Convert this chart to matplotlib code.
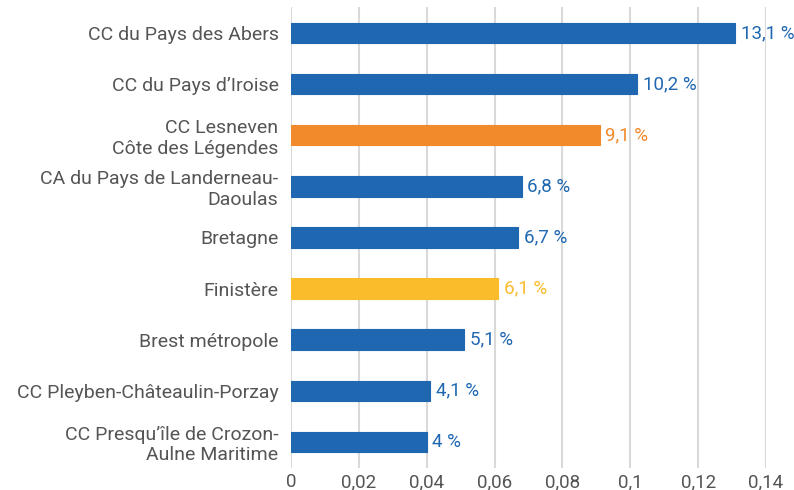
import numpy as np
import matplotlib.pyplot as plt

plt.rcParams['font.family'] = ['Roboto', 'DejaVu Sans']

territoires = [
    "CC du Pays des Abers",
    "CC du Pays d\u2019Iroise",
    "CC Lesneven\nC\u00f4te des L\u00e9gendes",
    "CA du Pays de Landerneau-\nDaoulas",
    "Bretagne",
    "Finist\u00e8re",
    "Brest m\u00e9tropole",
    "CC Pleyben-Ch\u00e2teaulin-Porzay",
    "CC Presqu\u2019\u00eele de Crozon-\nAulne Maritime",
]
taux = [0.131, 0.102, 0.091, 0.068, 0.067, 0.061, 0.051, 0.041, 0.040]
etiquettes = ["13,1 %", "10,2 %", "9,1 %", "6,8 %", "6,7 %", "6,1 %", "5,1 %", "4,1 %", "4 %"]
couleurs = ["#1F67B1", "#1F67B1", "#F28A2B", "#1F67B1", "#1F67B1",
            "#FBBC2C", "#1F67B1", "#1F67B1", "#1F67B1"]

fig = plt.figure(figsize=(7.94, 4.90), dpi=100)
ax = fig.add_axes([291 / 794, 1 - 467.5 / 490, (766 - 291) / 794, (467.5 - 7.5) / 490])

y = np.arange(len(territoires))
ax.barh(y, taux, height=0.4, color=couleurs, edgecolor=couleurs,
        linewidth=0.8, zorder=3)
for yi, v, lab, c in zip(y, taux, etiquettes, couleurs):
    ax.annotate(lab, (v, yi), xytext=(4, 0), textcoords="offset points",
                va="center", ha="left", color=c, fontsize=13.5,
                annotation_clip=False)

ax.set_xlim(0, 0.14)
ax.set_ylim(len(territoires) - 0.5, -0.5)
ax.set_yticks(y)
ax.set_yticklabels(territoires, fontsize=14, color="#555555", ha="right",
                   multialignment="right", linespacing=1.17)
xt = np.arange(0, 0.141, 0.02)
ax.set_xticks(xt)
ax.set_xticklabels(["0", "0,02", "0,04", "0,06", "0,08", "0,1", "0,12", "0,14"],
                   fontsize=13.5, color="#555555")
ax.tick_params(axis="y", length=0, pad=9)
ax.tick_params(axis="x", length=0, pad=4)
ax.grid(axis="x", color="#D9D9D9", linewidth=1.5, zorder=0)
for s in ax.spines.values():
    s.set_visible(False)

fig.savefig("out.png", dpi=100)
